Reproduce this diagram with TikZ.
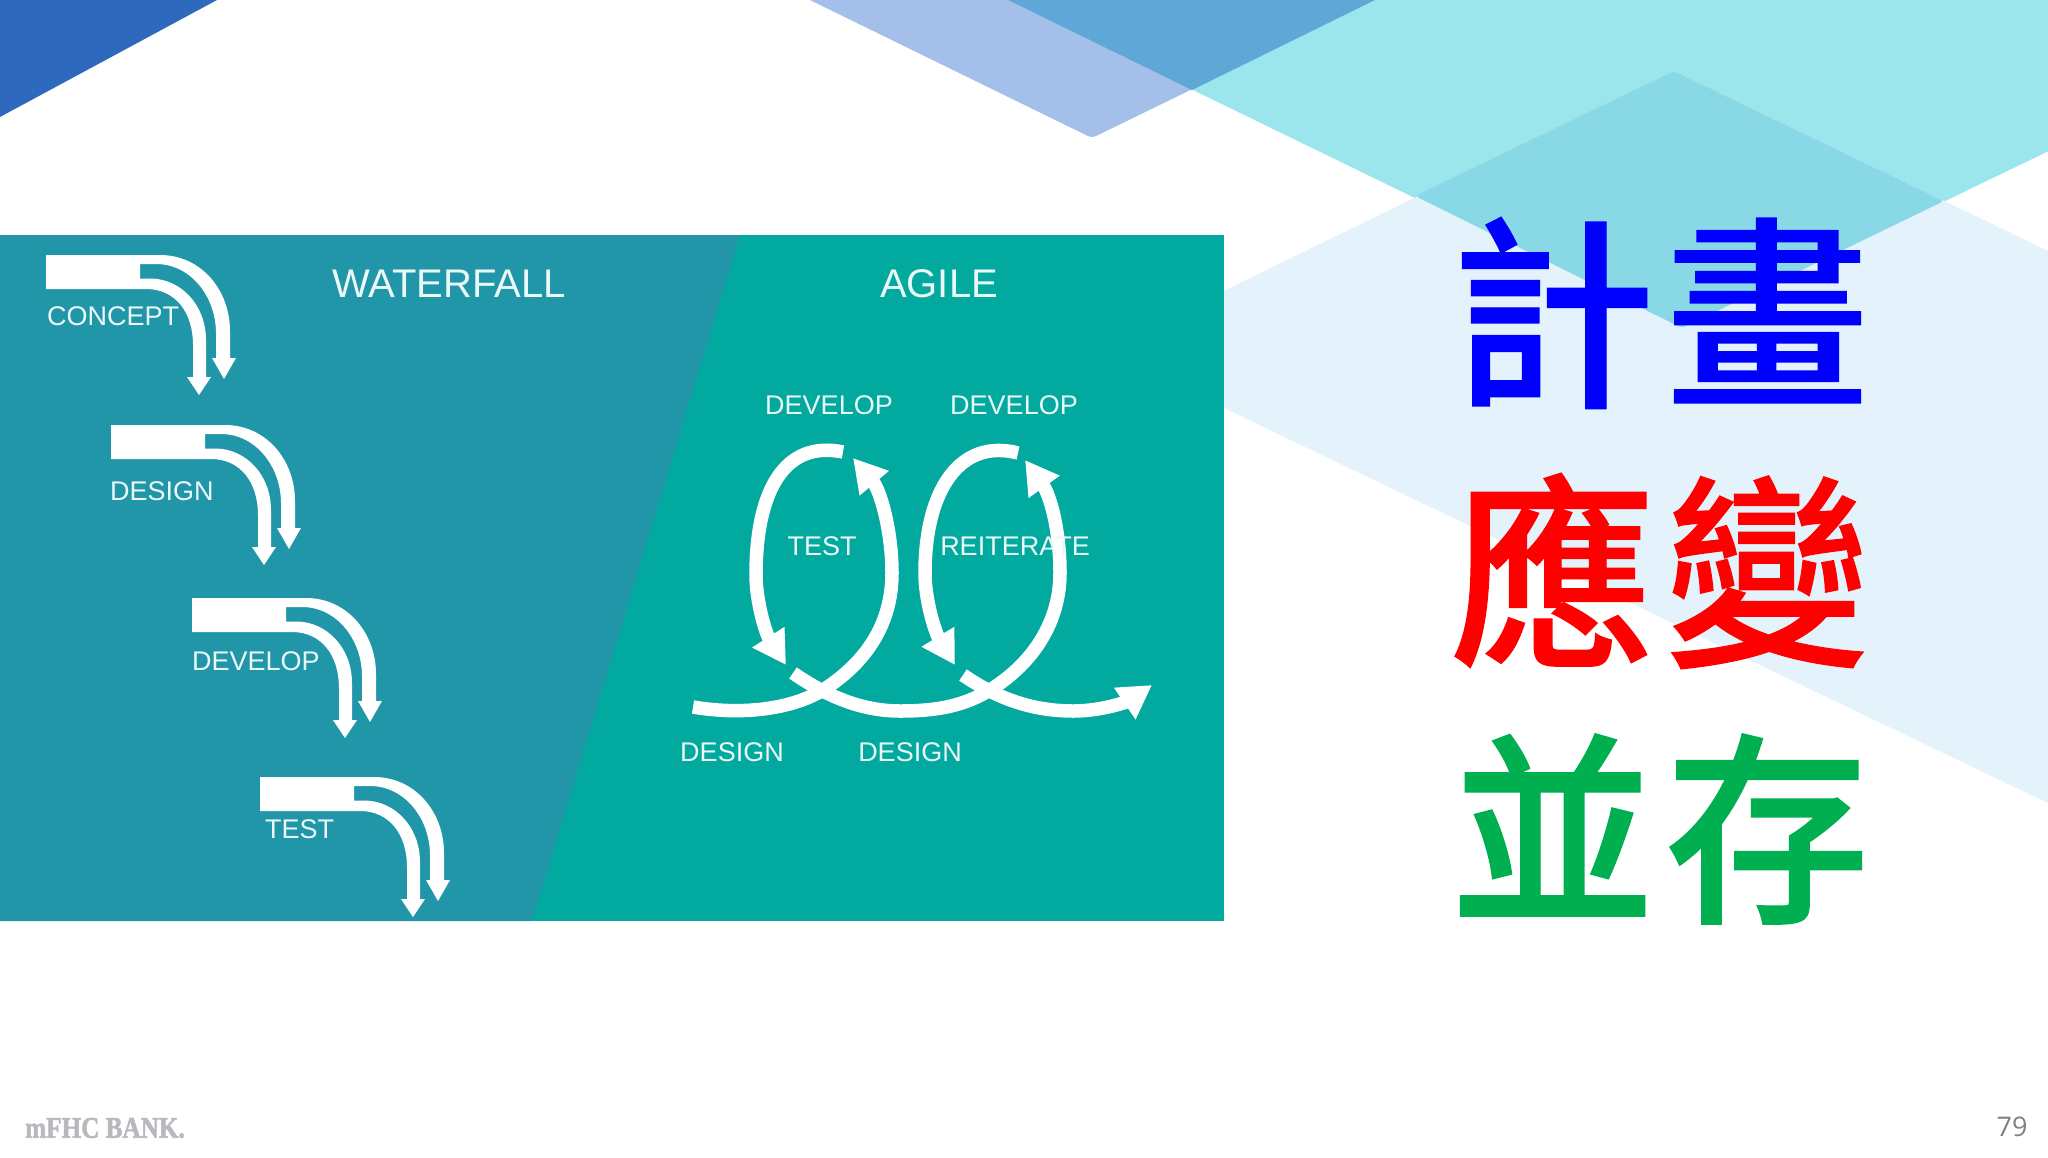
\documentclass[tikz,border=0pt]{standalone}
\usepackage{fontspec}
\setmainfont{Liberation Sans}
\newfontfamily\cjkfont[FakeBold=0.7]{Noto Sans CJK TC Medium}
\newfontfamily\logofont[BoldFeatures={FakeBold=2}]{Liberation Serif}
\newfontfamily\pagefont{Open Sans}
\usetikzlibrary{arrows.meta}
\definecolor{tealleft}{HTML}{2096A8}
\definecolor{tealright}{HTML}{02A99E}
\definecolor{labelwhite}{HTML}{EAF8F8}
\definecolor{cornerblue}{HTML}{2F69BD}
\definecolor{periwinkle}{HTML}{A4C0EA}
\definecolor{aqua}{HTML}{9BE5EC}
\definecolor{skyband}{HTML}{5EA7D7}
\definecolor{paleblue}{HTML}{E3F2FB}
\definecolor{aquadeep}{HTML}{88D8E6}
\definecolor{planblue}{HTML}{0000FF}
\definecolor{adaptred}{HTML}{FF0000}
\definecolor{coexistgreen}{HTML}{00B050}
\definecolor{logogrey}{HTML}{B8B8BE}
\definecolor{pagegrey}{HTML}{808080}
\tikzset{
	label27/.style = {text=labelwhite, inner sep=0pt, font=\fontsize{27}{27}\selectfont},
	title40/.style = {text=labelwhite, inner sep=0pt, font=\fontsize{40}{40}\selectfont},
	hanzi/.style = {inner sep=0pt, font=\cjkfont\fontsize{205}{205}\selectfont},
	loopline/.style = {draw=white, line width=13.5pt, -{Triangle[length=33pt,width=36pt]}},
	softcorner/.style = {rounded corners=4pt},
}

\begin{document}
\begin{tikzpicture}[x=1pt,y=-1pt]
	\useasboundingbox (0,0) rectangle (2048,1157);
	\fill[white] (0,0) rectangle (2048,1157);
	% corners behind the panel
	\fill[cornerblue] (0,0) -- (217,0) -- (0,117) -- cycle;
	\fill[periwinkle, softcorner] (769,-20) -- (1092,138) -- (1416,-20) -- cycle;
	\fill[aqua, softcorner] (967,-20) -- (1682,328) -- (2200,78) -- (2200,-20) -- cycle;
	\fill[skyband] (1008,0) -- (1192,90) -- (1375,0) -- cycle;
	\fill[paleblue, softcorner] (1674,71) -- (2200,324) -- (2200,876) -- (1103,350) -- cycle;
	\fill[aquadeep, softcorner] (1674,71) -- (1944,201) -- (1682,328) -- (1415,196) -- cycle;
	% panel
	\fill[tealright] (0,235) rectangle (1224,921);
	\fill[tealleft] (0,235) -- (740,235) -- (532,921) -- (0,921) -- cycle;
	\node[title40] (waterfall) at (449,284) {WATERFALL};
	\node[title40] (agile) at (939,284) {AGILE};
	% waterfall steps
	\foreach \name/\px/\py/\lx/\ly/\txt in {concept/46/255/47/316/CONCEPT, design/111/425/110/491/DESIGN, develop/192/598/192/661/DEVELOP, test/260/777/265/829/TEST} {
		\begin{scope}[shift={(\px,\py)}]
			\fill[white] (0,0) -- (114,0) .. controls (155,0) and (184,35) .. (184,76) -- (184,103) -- (190,103) -- (178,124) -- (166,103) -- (170,103) -- (170,78) .. controls (170,42) and (145,9) .. (110,9) -- (94,9) -- (94,23.5) -- (105,23.5) .. controls (135,24) and (160,50) .. (160,85) -- (160,122) -- (165,122) -- (153,140) -- (141,122) -- (147,122) -- (147,90) .. controls (147,58) and (130,34) .. (100,34) -- (0,34) -- cycle;
		\end{scope}
		\node[label27, anchor=west] (\name) at (\lx,\ly) {\txt};
	}
	% agile loops
	\draw[loopline] (843,452) .. controls (785,440) and (756,490) .. (756,575) .. controls (756,600) and (765,632) .. (786,665);
	\draw[loopline] (693,707) .. controls (740,715) and (790,710) .. (823,690) .. controls (870,660) and (892,620) .. (892,573) .. controls (892,530) and (880,490) .. (853,458);
	\draw[loopline] (793,673) .. controls (825,695) and (860,711) .. (900,711) .. controls (940,711) and (965,705) .. (990,690) .. controls (1035,662) and (1060,620) .. (1060,573) .. controls (1060,530) and (1050,495) .. (1025,460);
	\draw[loopline] (1018,453) .. controls (960,438) and (925,490) .. (925,573) .. controls (925,600) and (935,632) .. (955,665);
	\draw[loopline] (963,675) .. controls (995,697) and (1030,711) .. (1073,711) .. controls (1105,711) and (1130,700) .. (1152,685);
	\node[label27] (develop1) at (829,405) {DEVELOP};
	\node[label27] (develop2) at (1014,405) {DEVELOP};
	\node[label27] (test2) at (822,546) {TEST};
	\node[label27] (reiterate) at (1015,546) {REITERATE};
	\node[label27] (design1) at (732,752) {DESIGN};
	\node[label27] (design2) at (910,752) {DESIGN};
	% big words
	\node[hanzi, text=planblue] (plan) at (1660,313) {計\kern10pt 畫};
	\node[hanzi, text=adaptred] (adapt) at (1660,571) {應\kern10pt 變};
	\node[hanzi, text=coexistgreen] (coexist) at (1660,829) {並\kern10pt 存};
	% footer
	\node[inner sep=0pt, anchor=west, text=logogrey, font=\logofont\bfseries\fontsize{30}{30}\selectfont] (logo) at (25,1128) {\scalebox{.84}[1]{mFHC BANK.}};
	\node[inner sep=0pt, text=pagegrey, font=\pagefont\fontsize{27}{27}\selectfont] (pagenum) at (2012,1127) {79};
\end{tikzpicture}
\end{document}
